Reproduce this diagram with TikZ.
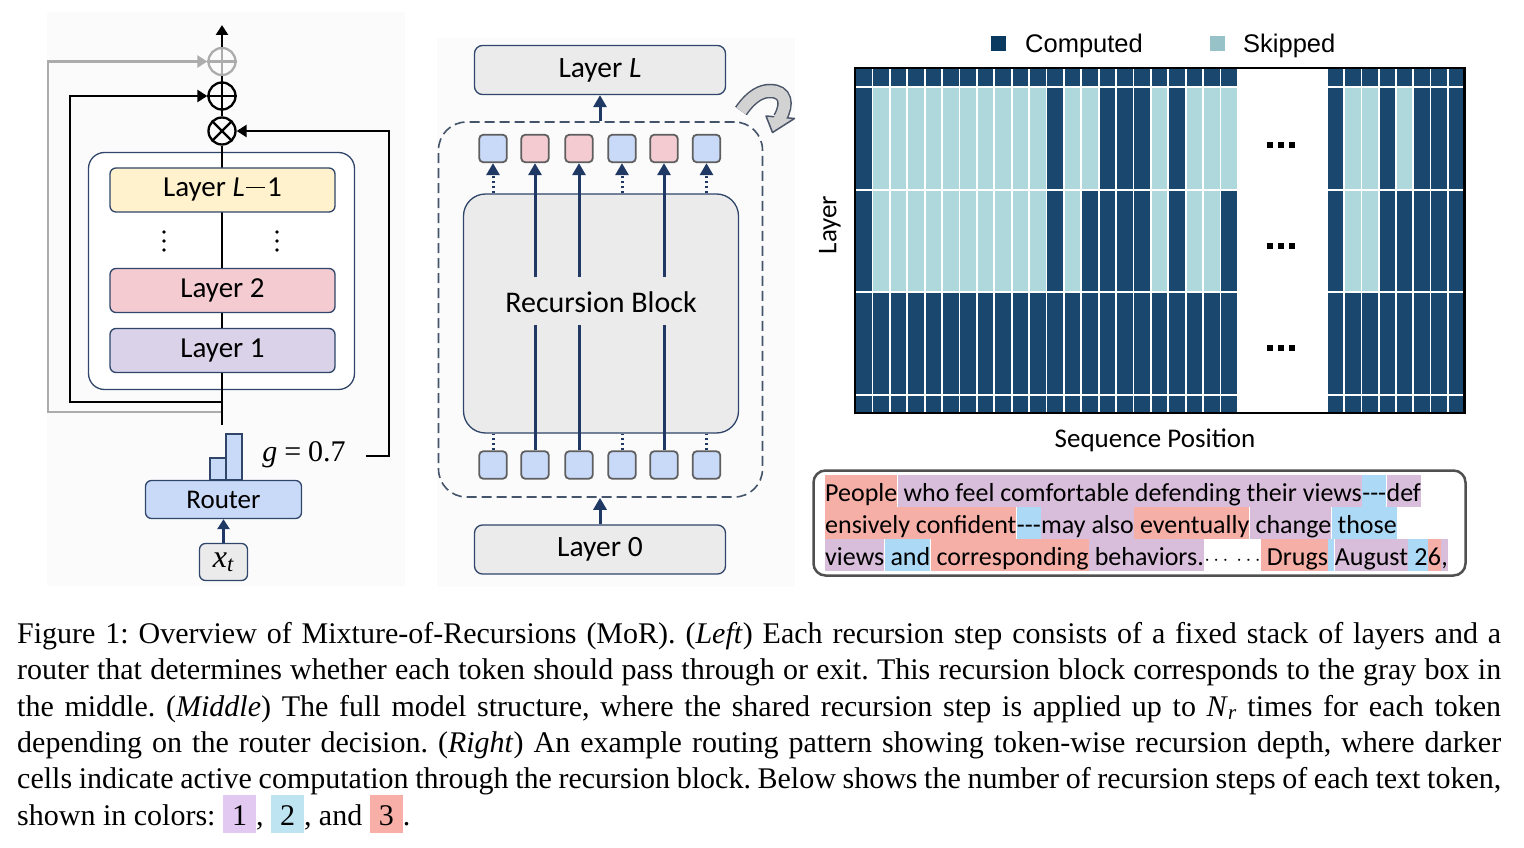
\documentclass[tikz,border=0pt]{standalone}
\usepackage{fontspec}
\setmainfont{Liberation Serif}
\newfontfamily\calfont{Carlito}
\newfontfamily\arialfont{Liberation Sans}
\usetikzlibrary{arrows.meta,calc}
\definecolor{navy}{RGB}{31,56,100}
\definecolor{bord}{RGB}{47,69,105}
\definecolor{dashc}{RGB}{68,84,106}
\definecolor{yel}{RGB}{255,242,204}
\definecolor{pnk}{RGB}{243,203,208}
\definecolor{lav}{RGB}{217,210,233}
\definecolor{lblue}{RGB}{201,218,248}
\definecolor{lgray}{RGB}{235,235,235}
\definecolor{sqb}{RGB}{95,95,95}
\definecolor{arrgray}{RGB}{172,172,172}
\definecolor{cD}{RGB}{26,71,110}
\definecolor{cL}{RGB}{174,216,220}
\definecolor{legD}{RGB}{10,58,96}
\definecolor{legL}{RGB}{151,195,200}
\definecolor{tR}{RGB}{245,175,167}
\definecolor{tP}{RGB}{217,190,219}
\definecolor{tB}{RGB}{172,218,246}
\definecolor{c1}{RGB}{226,201,241}
\definecolor{c2}{RGB}{190,227,241}
\definecolor{c3}{RGB}{247,175,168}
\definecolor{panel}{RGB}{251,251,251}
\definecolor{iconfill}{RGB}{210,210,210}
\definecolor{iconline}{RGB}{75,85,105}
\definecolor{tboxc}{RGB}{80,80,80}
\newcommand{\csz}[1]{\calfont\fontsize{#1}{#1}\selectfont}
\newcommand{\asz}[1]{\arialfont\fontsize{#1}{#1}\selectfont}
\newcommand{\hlbox}[2]{{\setlength{\fboxsep}{0pt}\colorbox{#1}{\rule[-8pt]{0pt}{38pt}\hspace{9pt}#2\hspace{9pt}}}}
\begin{document}
\begin{tikzpicture}[x=1pt,y=-1pt,
  blktip/.tip={Triangle[length=10pt,width=12pt]},
  navtip/.tip={Triangle[length=12pt,width=13pt]},
  blk/.style={line width=2.6pt, black},
  nvline/.style={line width=3pt, navy},
  circ/.style={circle, draw, line width=2.3pt, minimum size=27pt, inner sep=0pt, fill=panel},
  layerbox/.style={draw=bord, line width=1.3pt, rounded corners=6pt, minimum width=225pt, minimum height=44pt, inner sep=0pt, font=\csz{29}},
  midbox/.style={draw=bord, line width=1.3pt, rounded corners=8pt, fill=lgray, minimum width=251pt, minimum height=49pt, inner sep=0pt, font=\csz{29.5}},
  sqbox/.style={draw=sqb, line width=1.8pt, rounded corners=4pt, minimum size=27.5pt, inner sep=0pt},
  tk/.style={inner sep=0pt, text height=26pt, text depth=6pt, anchor=base west, font=\csz{26}},
  capline/.style={anchor=base west, inner sep=0pt, font=\fontsize{30}{36}\selectfont\frenchspacing}
]
\useasboundingbox (0,0) rectangle (1524,848);
\fill[white] (0,0) rectangle (1524,848);
% panels
\fill[panel] (47,12) rectangle (405,586);
\fill[panel] (437,38) rectangle (795,587);

% ================= LEFT =================
\node[circ, draw=arrgray] (gplus) at (222,61.5) {};
\node[circ] (bplus) at (222,96) {};
\node[circ] (times) at (222,131) {};
\draw[line width=2.3pt, arrgray] (gplus.north) -- (gplus.south) (gplus.west) -- (gplus.east);
\draw[line width=2.3pt] (bplus.north) -- (bplus.south) (bplus.west) -- (bplus.east);
\draw[line width=2.3pt] (times.north west) -- (times.south east) (times.north east) -- (times.south west);
\coordinate (outtop) at (222,25);
\draw[blk] (times.north) -- (bplus.south);
\draw[blk] (bplus.north) -- (gplus.south);
\draw[blk,-{blktip}] (gplus.north) -- (outtop);

\coordinate (gA) at (222,412); \coordinate (gB) at (48,412);
\draw[line width=2.6pt, arrgray, -{blktip}] (gA) -- (gB) |- (gplus.west);
\coordinate (bA) at (222,402); \coordinate (bB) at (70,402);
\draw[blk, -{blktip}] (bA) -- (bB) |- (bplus.west);
\coordinate (gt1) at (366,456); \coordinate (gt2) at (389,456);
\draw[blk, -{blktip}] (gt1) -- (gt2) |- (times.east);
\node[font=\fontsize{30}{30}\selectfont, anchor=center] (glab) at (304,455) {\textit{g}\hspace{7pt}=\hspace{7pt}0.7};

\node[draw=bord, line width=1.3pt, rounded corners=16pt, fill=white, minimum width=266pt, minimum height=237pt] (stack) at (221.5,271) {};
\coordinate (mbot) at (222,425);
\draw[blk] (times.south) -- (mbot);
\node[layerbox, fill=yel] (l3) at (222.5,190) {Layer \textit{L}\hspace{1.5pt}\rule[8.5pt]{19pt}{1.8pt}\hspace{2pt}1};
\node[layerbox, fill=pnk] (l2) at (222.5,290.5) {Layer 2};
\node[layerbox, fill=lav] (l1) at (222.5,350.5) {Layer 1};
\foreach \x in {164,277} \foreach \y in {232,241,250} \fill (\x,\y) circle (1.8);

\draw[draw=bord, line width=1.2pt, fill=lblue] (210,458) rectangle (226,480);
\draw[draw=bord, line width=1.2pt, fill=lblue] (226,434) rectangle (242,480);
\node[layerbox, fill=lblue, minimum width=156pt, minimum height=38pt, font=\csz{27}] (router) at (223.5,499.5) {Router};
\node[layerbox, fill=lgray, minimum width=48pt, minimum height=37pt, font=\fontsize{32}{32}\selectfont] (xt) at (223.5,562) {\textit{x}\textsubscript{\textit{t}}};
\draw[line width=2.6pt, navy, -{blktip}] (xt) -- (router);

% ================= MIDDLE =================
\node[midbox] (lL) at (600,70) {Layer \textit{L}};
\node[draw=dashc, dash pattern=on 10pt off 5pt, line width=1.6pt, rounded corners=28pt, minimum width=324pt, minimum height=375pt] (dbox) at (600.5,309.5) {};
\node[draw=bord, line width=1.3pt, fill=lgray, rounded corners=22pt, minimum width=275pt, minimum height=239pt] (rb) at (601,313.5) {};
\node[font=\csz{30}] (rbl) at (601,302) {Recursion Block};
\foreach \x/\c [count=\i] in {493/lblue,535/pnk,579/pnk,622/lblue,664/pnk,706.5/lblue} {
  \node[sqbox, fill=\c] (t\i) at (\x,148.5) {};
  \node[sqbox, fill=lblue] (b\i) at (\x,465) {};
}
\foreach \i in {2,3,5} {
  \coordinate (cb\i) at ($(b\i.north)+(0,-125)$);
  \coordinate (ct\i) at ($(t\i.south)+(0,114)$);
  \draw[nvline] (b\i.north) -- (cb\i);
  \draw[nvline,-{navtip}] (ct\i) -- (t\i.south);
}
\foreach \i in {1,4,6} {
  \draw[nvline, dash pattern=on 2.5pt off 2.5pt] (b\i.north) -- (b\i.north |- rb.south);
  \draw[nvline, dash pattern=on 2.5pt off 2.5pt, -{navtip}] (t\i.south |- rb.north) -- (t\i.south);
}
\node[midbox] (l0) at (600,549.5) {Layer 0};
\draw[nvline,-{navtip}] (l0.north) -- (l0.north |- dbox.south);
\draw[nvline,-{navtip}] (dbox.north -| lL) -- (lL.south);

% recursion icon
\draw[line width=14.5pt, iconline] (741,111) .. controls (752,95) and (762,91) .. (770,91) .. controls (786,91) and (788,104) .. (780,118);
\draw[line width=1.5pt, iconline, fill=iconfill, line join=round] (766,116) -- (794.5,118.5) -- (772.5,132.5) -- cycle;
\draw[line width=11.5pt, iconfill] (741,111) .. controls (752,95) and (762,91) .. (770,91) .. controls (786,91) and (788,104) .. (780,118) -- (779,120.5);

% ================= RIGHT =================
\node[fill=legD, minimum size=15pt, inner sep=0pt] (lgD) at (998.5,43.5) {};
\node[anchor=base west, inner sep=0pt, font=\asz{25.5}] (lgDt) at (1025,52.5) {Computed};
\node[fill=legL, minimum size=15pt, inner sep=0pt] (lgL) at (1217.5,43.5) {};
\node[anchor=base west, inner sep=0pt, font=\asz{25.5}] (lgLt) at (1243,52.5) {Skipped};

\foreach \ya/\yb in {68/86.1,292.9/394.1,395.9/413} {
  \foreach \i in {1,...,22} \fill[cD] ({855+(\i-1)*17.4+0.9},\ya) rectangle ({855+\i*17.4-0.9},\yb);
  \foreach \i in {1,...,8} \fill[cD] ({1327+(\i-1)*17.25+0.9},\ya) rectangle ({1327+\i*17.25-0.9},\yb);
}
\foreach \c [count=\i] in {cD,cL,cL,cL,cL,cL,cL,cL,cL,cL,cL,cD,cL,cL,cD,cD,cD,cL,cD,cL,cL,cL}
  \fill[\c] ({855+(\i-1)*17.4+0.9},87.9) rectangle ({855+\i*17.4-0.9},189.1);
\foreach \c [count=\i] in {cD,cL,cL,cL,cL,cL,cL,cL,cL,cL,cL,cD,cL,cD,cD,cD,cD,cL,cD,cL,cL,cD}
  \fill[\c] ({855+(\i-1)*17.4+0.9},190.9) rectangle ({855+\i*17.4-0.9},291.1);
\foreach \c [count=\i] in {cD,cL,cL,cD,cL,cD,cD,cD}
  \fill[\c] ({1327+(\i-1)*17.25+0.9},87.9) rectangle ({1327+\i*17.25-0.9},189.1);
\foreach \c [count=\i] in {cD,cL,cL,cD,cD,cD,cD,cD}
  \fill[\c] ({1327+(\i-1)*17.25+0.9},190.9) rectangle ({1327+\i*17.25-0.9},291.1);
\draw[line width=2.2pt] (855,68) rectangle (1464.5,413);
\foreach \y in {145,246,348} \foreach \x in {1270,1281,1292} \fill ({\x-2.6},{\y-3}) rectangle ({\x+2.6},{\y+3});
\node[rotate=90, font=\csz{27}] (ylab) at (830,225) {Layer};
\node[font=\csz{27}] (xlab) at (1155,440) {Sequence Position};

% text box
\node[draw=tboxc, line width=2.5pt, rounded corners=12pt, fill=white, minimum width=652pt, minimum height=105pt] (tbox) at (1139.5,523) {};
\node[tk, fill=tR] (a1) at (825,501) {People};
\node[tk, fill=tP] (a2) at (a1.base east) {\ who feel comfortable defending their views};
\node[tk, fill=tB] (a3) at (a2.base east) {-{}-{}-};
\node[tk, fill=tP] (a4) at (a3.base east) {def};
\node[tk, fill=tR] (b1x) at (825,533) {ensively confident};
\node[tk, fill=tB] (b2x) at (b1x.base east) {-{}-{}-};
\node[tk, fill=tP] (b3x) at (b2x.base east) {may also};
\node[tk, fill=tR] (b4x) at (b3x.base east) {\ eventually};
\node[tk, fill=tP] (b5x) at (b4x.base east) {\ change};
\node[tk, fill=tB] (b6x) at (b5x.base east) {\ those};
\node[tk, fill=tP] (c1x) at (825,565) {views};
\node[tk, fill=tB] (c2x) at (c1x.base east) {\ and};
\node[tk, fill=tR] (c3x) at (c2x.base east) {\ corresponding};
\node[tk, fill=tP] (c4x) at (c3x.base east) {\ behaviors.};
\node[tk] (c5x) at (c4x.base east) {\fontsize{20}{20}\selectfont$\cdots$\hspace{8pt}$\cdots$};
\node[tk, fill=tR] (c6x) at (c5x.base east) {\ Drugs};
\node[tk, fill=tB] (c7x) at (c6x.base east) {\hbox to 6pt{}};
\node[tk, fill=tP] (c8x) at (c7x.base east) {August};
\node[tk, fill=tB] (c9x) at (c8x.base east) {\ 2};
\node[tk, fill=tR] (c10x) at (c9x.base east) {6};
\node[tk, fill=tP] (c11x) at (c10x.base east) {,};

% caption
\node[capline] (cap1) at (17,643.3) {\makebox[1484pt][s]{Figure 1: Overview of Mixture-of-Recursions (MoR). (\textit{Left}) Each recursion step consists of a fixed stack of layers and a}};
\node[capline] (cap2) at (17,679.7) {\makebox[1484pt][s]{router that determines whether each token should pass through or exit. This recursion block corresponds to the gray box in}};
\node[capline] (cap3) at (17,716.1) {\makebox[1484pt][s]{the middle. (\textit{Middle}) The full model structure, where the shared recursion step is applied up to \textit{N}\textsubscript{\textit{r}} times for each token}};
\node[capline] (cap4) at (17,752.5) {\makebox[1484pt][s]{depending on the router decision. (\textit{Right}) An example routing pattern showing token-wise recursion depth, where darker}};
\node[capline] (cap5) at (17,788.9) {\makebox[1484pt][s]{cells indicate active computation through the recursion block. Below shows the number of recursion steps of each text token,}};
\node[capline] (cap6) at (17,825.3) {shown in colors: \hlbox{c1}{1}, \hlbox{c2}{2}, and \hlbox{c3}{3}.};
\end{tikzpicture}
\end{document}
